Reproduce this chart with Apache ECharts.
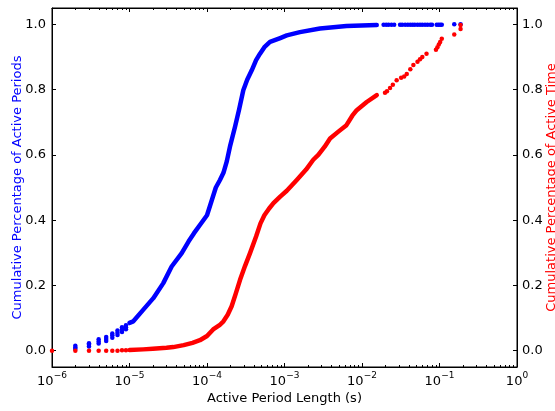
<!DOCTYPE html>
<html>
<head>
<meta charset="utf-8">
<script src="https://cdn.jsdelivr.net/npm/echarts@6/dist/echarts.min.js"></script>
<style>html,body{margin:0;padding:0;background:#fff;}#c{width:555px;height:411px;}</style>
</head>
<body>
<div id="c"></div>
<script>
// ---- data ----
const xTicks = [1e-6, 1e-5, 1e-4, 1e-3, 1e-2, 1e-1, 1];
const yTicks = [0, 0.2, 0.4, 0.6, 0.8, 1.0];
const minorFactors = [2, 3, 4, 5, 6, 7, 8, 9];
const minorDecades = [1e-6, 1e-5, 1e-4, 1e-3, 1e-2, 1e-1];

// Blue: cumulative percentage of active periods
const blueCurve = [
  [1e-5, 0.085], [1.12e-5, 0.09], [1.5e-5, 0.125], [2.03e-5, 0.161], [2.73e-5, 0.207],
  [3.5e-5, 0.258], [4.72e-5, 0.299], [5.8e-5, 0.335], [6.8e-5, 0.36], [8.1e-5, 0.385],
  [1e-4, 0.415], [1.15e-4, 0.46], [1.3e-4, 0.5], [1.47e-4, 0.523], [1.63e-4, 0.545],
  [1.8e-4, 0.58], [2.0e-4, 0.63], [2.3e-4, 0.686], [2.6e-4, 0.74], [2.94e-4, 0.798],
  [3.3e-4, 0.83], [3.78e-4, 0.859], [4.3e-4, 0.89], [4.83e-4, 0.91], [5.5e-4, 0.93],
  [6.5e-4, 0.946], [8.8e-4, 0.958], [1.07e-3, 0.966], [1.58e-3, 0.976], [2.87e-3, 0.987],
  [6.3e-3, 0.995], [1.55e-2, 0.998]
];
const blueDots = [
  [2e-6, 0.005], [2e-6, 0.01], [2e-6, 0.015],
  [3e-6, 0.013], [3e-6, 0.018], [3e-6, 0.023],
  [4e-6, 0.022], [4e-6, 0.028], [4e-6, 0.035],
  [5e-6, 0.03], [5e-6, 0.036], [5e-6, 0.042],
  [6e-6, 0.04], [6e-6, 0.047], [6e-6, 0.053],
  [7e-6, 0.048], [7e-6, 0.055], [7e-6, 0.062],
  [8e-6, 0.057], [8e-6, 0.065], [8e-6, 0.072],
  [9e-6, 0.066], [9e-6, 0.072], [9e-6, 0.078],
  [1.9e-2, 0.999], [2.05e-2, 0.999], [2.2e-2, 0.999], [2.4e-2, 0.999], [2.6e-2, 0.999],
  [3.1e-2, 0.999], [3.3e-2, 0.999], [3.6e-2, 0.999], [3.9e-2, 0.999], [4.2e-2, 0.999], [4.5e-2, 0.999],
  [4.8e-2, 0.999], [5.2e-2, 0.999], [5.6e-2, 0.999], [6.0e-2, 0.999], [6.5e-2, 0.999],
  [7.0e-2, 0.999], [7.6e-2, 0.999], [8.0e-2, 0.999],
  [9.2e-2, 0.999], [9.7e-2, 0.999], [0.102, 0.999], [0.107, 0.999],
  [0.155, 1.0], [0.187, 1.0]
];

// Red: cumulative percentage of active time
const redCurve = [
  [1e-5, 0.002], [1.5e-5, 0.004], [2e-5, 0.006], [3e-5, 0.009], [3.67e-5, 0.011],
  [5e-5, 0.017], [6.5e-5, 0.024], [8.1e-5, 0.032], [1e-4, 0.045], [1.2e-4, 0.065],
  [1.45e-4, 0.078], [1.63e-4, 0.09], [1.85e-4, 0.11], [2.08e-4, 0.136], [2.35e-4, 0.175],
  [2.67e-4, 0.217], [3.1e-4, 0.26], [3.59e-4, 0.299], [4.3e-4, 0.35], [4.9e-4, 0.39],
  [5.5e-4, 0.415], [6.3e-4, 0.435], [7.2e-4, 0.452], [8.8e-4, 0.472], [1.07e-3, 0.49],
  [1.44e-3, 0.523], [1.9e-3, 0.555], [2.35e-3, 0.585], [2.73e-3, 0.6], [3.3e-3, 0.625],
  [3.87e-3, 0.65], [5.0e-3, 0.672], [6.3e-3, 0.691], [7.5e-3, 0.72], [8.55e-3, 0.737],
  [1.15e-2, 0.762], [1.55e-2, 0.783]
];
const redDots = [
  [1e-6, 0.0], [2e-6, 0.0], [3e-6, 0.0], [4e-6, 0.0], [5e-6, 0.0], [6e-6, 0.0],
  [7e-6, 0.0], [8e-6, 0.001], [9e-6, 0.001],
  [1.98e-2, 0.79], [2.1e-2, 0.795], [2.3e-2, 0.805], [2.5e-2, 0.815], [2.8e-2, 0.829],
  [3.2e-2, 0.836], [3.5e-2, 0.84], [3.78e-2, 0.848], [4.2e-2, 0.862], [4.6e-2, 0.875],
  [5.2e-2, 0.885], [5.6e-2, 0.893], [6.0e-2, 0.9], [6.8e-2, 0.91],
  [9.0e-2, 0.922], [9.4e-2, 0.93], [9.8e-2, 0.938], [0.102, 0.946], [0.107, 0.956],
  [0.155, 0.969], [0.187, 0.986], [0.187, 0.998]
];

// ---- chart ----
const minorTicks = [];
minorDecades.forEach(d => minorFactors.forEach(f => minorTicks.push([d * f])));

const FONT = 'DejaVu Sans';
const chart = echarts.init(document.getElementById('c'), null, {renderer: 'canvas'});

function supFmt(v) {
  const e = Math.round(Math.log10(v));
  return '{b|10}{s|' + (e < 0 ? '\u2212' + (-e) : String(e)) + '}';
}

const xBase = {
  type: 'log', logBase: 10, min: 1e-6, max: 1,
  axisLine: {show: true, onZero: false, lineStyle: {color: '#000', width: 1}},
  axisTick: {show: true, inside: true, length: 4, customValues: xTicks, lineStyle: {color: '#000'}},
  splitLine: {show: false}
};
const yBase = {
  type: 'value', min: -0.05, max: 1.05,
  axisLine: {show: true, onZero: false, lineStyle: {color: '#000', width: 1}},
  axisTick: {show: true, inside: true, length: 4, customValues: yTicks, lineStyle: {color: '#000'}},
  splitLine: {show: false},
  nameLocation: 'middle',
  nameMoveOverlap: false,
  nameTextStyle: {fontFamily: FONT, fontSize: 13}
};

chart.setOption({
  animation: false,
  backgroundColor: '#fff',
  grid: {left: 52, right: 38, top: 8, bottom: 44, containLabel: false, outerBoundsMode: 'none',
    show: true, borderColor: '#000', borderWidth: 1, backgroundColor: 'transparent'},
  xAxis: [
    Object.assign({}, xBase, {
      position: 'bottom',
      name: 'Active Period Length (s)', nameLocation: 'middle', nameGap: 25, nameMoveOverlap: false,
      nameTextStyle: {fontFamily: FONT, fontSize: 13, color: '#000'},
      axisLabel: {
        show: true, customValues: xTicks, margin: 4, formatter: supFmt,
        rich: {
          b: {fontFamily: FONT, fontSize: 13, color: '#000', lineHeight: 17, verticalAlign: 'bottom'},
          s: {fontFamily: FONT, fontSize: 9, color: '#000', lineHeight: 17, verticalAlign: 'top'}
        }
      }
    }),
    Object.assign({}, xBase, {position: 'top', axisLabel: {show: false}})
  ],
  yAxis: [
    Object.assign({}, yBase, {
      position: 'left',
      name: 'Cumulative Percentage of Active Periods', nameGap: 28,
      nameTextStyle: {fontFamily: FONT, fontSize: 13, color: '#0000ff'},
      axisLabel: {show: true, customValues: yTicks, margin: 6, fontFamily: FONT, fontSize: 13, color: '#000',
        formatter: v => v.toFixed(1)}
    }),
    Object.assign({}, yBase, {
      position: 'right',
      name: 'Cumulative Percentage of Active Time', nameGap: 28,
      nameTextStyle: {fontFamily: FONT, fontSize: 13, color: '#ff0000'},
      axisLabel: {show: true, customValues: yTicks, margin: 5, fontFamily: FONT, fontSize: 13, color: '#000',
        formatter: v => v.toFixed(1)}
    })
  ],
  series: [
    {
      type: 'custom', xAxisIndex: 0, yAxisIndex: 0, silent: true, data: minorTicks,
      renderItem: function (params, api) {
        const x = api.coord([api.value(0), 0])[0];
        const cs = params.coordSys;
        const x0 = Math.round(x) + 0.5;
        return {
          type: 'group',
          children: [
            {type: 'line', shape: {x1: x0, y1: cs.y + cs.height, x2: x0, y2: cs.y + cs.height - 2}, style: {stroke: '#000', lineWidth: 1}},
            {type: 'line', shape: {x1: x0, y1: cs.y, x2: x0, y2: cs.y + 2}, style: {stroke: '#000', lineWidth: 1}}
          ]
        };
      },
      z: 1
    },
    {
      type: 'line', name: 'periods', xAxisIndex: 0, yAxisIndex: 0, data: blueCurve,
      symbol: 'none', smooth: false,
      lineStyle: {color: '#0000ff', width: 4.5, cap: 'round', join: 'round'}, z: 2
    },
    {
      type: 'scatter', xAxisIndex: 0, yAxisIndex: 0, data: blueDots,
      symbol: 'circle', symbolSize: 4.5, itemStyle: {color: '#0000ff', opacity: 1}, z: 2
    },
    {
      type: 'line', name: 'time', xAxisIndex: 0, yAxisIndex: 1, data: redCurve,
      symbol: 'none', smooth: false,
      lineStyle: {color: '#ff0000', width: 4.5, cap: 'round', join: 'round'}, z: 3
    },
    {
      type: 'scatter', xAxisIndex: 0, yAxisIndex: 1, data: redDots,
      symbol: 'circle', symbolSize: 4.5, itemStyle: {color: '#ff0000', opacity: 1}, z: 3
    }
  ]
});
</script>
</body>
</html>
